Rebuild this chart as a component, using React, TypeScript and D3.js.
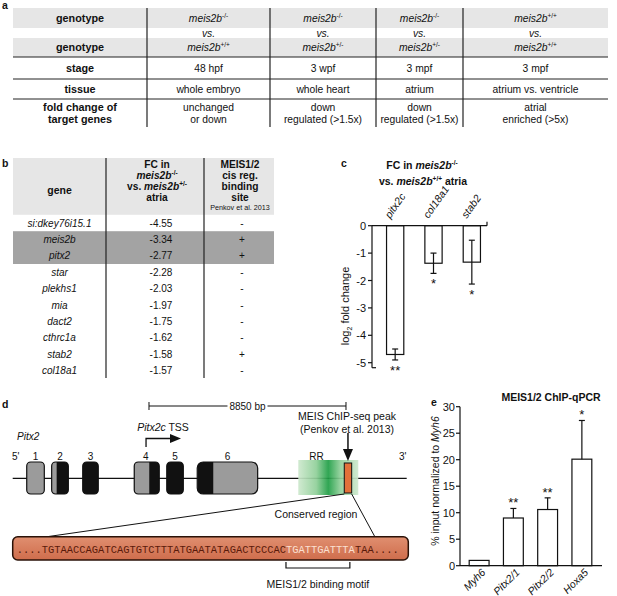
import React from "react";
import * as d3 from "d3";

const FONT = "'Liberation Sans', Arial, Helvetica, sans-serif";
const MONO = "'Liberation Mono', 'DejaVu Sans Mono', monospace";

// ---------- Panel a ----------
const aRowLabels = ["genotype", "genotype", "stage", "tissue"];
const aGenotypeLeft = ["-/-", "-/-", "-/-", "+/+"];
const aGenotypeRight = ["+/+", "+/-", "+/-", "+/+"];
const aStages = ["48 hpf", "3 wpf", "3 mpf", "3 mpf"];
const aTissues = ["whole embryo", "whole heart", "atrium", "atrium vs. ventricle"];
const aFoldChanges = [
  ["unchanged", "or down"],
  ["down", "regulated (>1.5x)"],
  ["down", "regulated (>1.5x)"],
  ["atrial", "enriched (>5x)"],
];

// ---------- Panel b ----------
const bGenes = ["si:dkey76i15.1", "meis2b", "pitx2", "star", "plekhs1", "mia", "dact2", "cthrc1a", "stab2", "col18a1"];
const bFC = ["-4.55", "-3.34", "-2.77", "-2.28", "-2.03", "-1.97", "-1.75", "-1.62", "-1.58", "-1.57"];
const bBinding = ["-", "+", "+", "-", "-", "-", "-", "-", "+", "-"];
const bHighlighted = ["meis2b", "pitx2"];

// ---------- Panel c ----------
const cGenes = ["pitx2c", "col18a1", "stab2"];
const cLog2FC = [-4.7, -1.37, -1.33];
const cError = [0.2, 0.37, 0.8];
const cSignif = ["**", "*", "*"];
const cTicks = [0, -1, -2, -3, -4, -5];

// ---------- Panel d ----------
const dLocusLength = 17700;
const dExonNames = ["1", "2", "3", "4", "5", "6"];
const dExonStart = [630, 1750, 3145, 5460, 6920, 8290];
const dExonEnd = [1420, 2500, 3845, 6585, 7665, 11005];
const dUtrStart = [630, 1750, null, 5460, null, 9010];
const dUtrEnd = [1420, 1975, null, 6135, null, 11005];
const dTSS = 5990;
const dRR = [12830, 15525];
const dPeak = [14895, 15228];
const dScaleBar = [6123, 14973]; // 8850 bp
const dSeqLeft = "....TGTAACCAGATCAGTGTCTTTATGAATATAGACTCCCAC";
const dSeqMotif = "TGATTGATTTA";
const dSeqRight = "TAA....";

// ---------- Panel e ----------
const eTargets = ["Myh6", "Pitx2/1", "Pitx2/2", "Hoxa5"];
const eValues = [1, 9, 10.6, 20.1];
const eErrors = [0, 1.8, 2.2, 7.3];
const eSignif = ["", "**", "**", "*"];
const eTicks = [0, 5, 10, 15, 20, 25, 30];

const Sup = ({ s }: { s: string }) => (
  <tspan fontSize={6.5} dy={-4}>{s}</tspan>
);

function PanelA() {
  const edges = [13, 147, 270, 376, 463, 608];
  const centers = edges.slice(0, 5).map((e, i) => (e + edges[i + 1]) / 2);
  const fs = 10.3;
  const W = edges[5] - edges[0];
  return (
    <g fontFamily={FONT} fontSize={fs} fill="#111">
      <text x={2} y={9} fontWeight="bold" fontSize={10.5}>a</text>
      <rect x={edges[0]} y={8} width={W} height={20} fill="#e6e6e6" />
      <rect x={edges[0]} y={38} width={W} height={19} fill="#e6e6e6" />
      {[57, 79, 99].map((y) => (
        <line key={y} x1={edges[0]} x2={edges[5]} y1={y} y2={y} stroke="#222" strokeWidth={1} />
      ))}
      {edges.slice(1, 5).map((x) => (
        <line key={x} x1={x} x2={x} y1={8} y2={127} stroke="#222" strokeWidth={1.2} />
      ))}
      {aRowLabels.map((l, i) => (
        <text key={i} x={centers[0]} y={[21.5, 51, 72, 92.5][i]} textAnchor="middle" fontWeight="bold" fontSize={10.8}>{l}</text>
      ))}
      <text x={centers[0]} y={110.5} textAnchor="middle" fontWeight="bold" fontSize={10.8}>fold change of</text>
      <text x={centers[0]} y={122.5} textAnchor="middle" fontWeight="bold" fontSize={10.8}>target genes</text>
      {centers.slice(1).map((cx, i) => (
        <g key={i}>
          <text x={cx} y={21.5} textAnchor="middle"><tspan fontStyle="italic">meis2b</tspan><Sup s={aGenotypeLeft[i]} /></text>
          <text x={cx} y={36.5} textAnchor="middle" fontStyle="italic">vs.</text>
          <text x={cx} y={51} textAnchor="middle"><tspan fontStyle="italic">meis2b</tspan><Sup s={aGenotypeRight[i]} /></text>
          <text x={cx} y={72} textAnchor="middle">{aStages[i]}</text>
          <text x={cx} y={92.5} textAnchor="middle">{aTissues[i]}</text>
          <text x={cx} y={110.5} textAnchor="middle">{aFoldChanges[i][0]}</text>
          <text x={cx} y={122.5} textAnchor="middle">{aFoldChanges[i][1]}</text>
        </g>
      ))}
    </g>
  );
}

function PanelB() {
  const edges = [13, 106, 204, 274];
  const rows = d3.scaleBand<string>().domain(bGenes).range([214.8, 378.8]);
  const hl = bHighlighted.map((g) => rows(g) as number);
  const hlTop = Math.min(...hl);
  const hlBot = Math.max(...hl) + rows.bandwidth();
  const c1 = (edges[0] + edges[1]) / 2;
  const c2 = 157;
  const c3 = 240;
  return (
    <g fontFamily={FONT} fontSize={10} fill="#111">
      <text x={2} y={167} fontWeight="bold" fontSize={10.5}>b</text>
      <rect x={edges[0]} y={158} width={edges[3] - edges[0]} height={56.8} fill="#e6e6e6" />
      <rect x={edges[0]} y={hlTop} width={edges[3] - edges[0]} height={hlBot - hlTop} fill="#a3a3a3" />
      {edges.slice(1, 3).map((x) => (
        <line key={x} x1={x} x2={x} y1={158} y2={378} stroke="#222" strokeWidth={1.2} />
      ))}
      <text x={c1} y={193.5} textAnchor="middle" fontWeight="bold" fontSize={10.5}>gene</text>
      <g fontWeight="bold" fontSize={10.2} textAnchor="middle">
        <text x={c2} y={168}>FC in</text>
        <text x={c2} y={179}><tspan fontStyle="italic">meis2b</tspan><Sup s="-/-" /></text>
        <text x={c2} y={190}>vs. <tspan fontStyle="italic">meis2b</tspan><Sup s="+/-" /></text>
        <text x={c2} y={201}>atria</text>
        <text x={c3} y={168}>MEIS1/2</text>
        <text x={c3} y={179}>cis reg.</text>
        <text x={c3} y={190}>binding</text>
        <text x={c3} y={201}>site</text>
      </g>
      <text x={c3} y={209.5} textAnchor="middle" fontSize={7.2}>Penkov et al. 2013</text>
      {bGenes.map((g, i) => {
        const y = (rows(g) as number) + rows.bandwidth() / 2 + 3.5;
        return (
          <g key={g}>
            <text x={c1} y={y} textAnchor="middle" fontStyle="italic">{g}</text>
            <text x={161} y={y} textAnchor="middle">{bFC[i]}</text>
            <text x={242} y={y} textAnchor="middle">{bBinding[i]}</text>
          </g>
        );
      })}
    </g>
  );
}

function PanelC() {
  const y = d3.scaleLinear().domain([0, -5]).range([225.7, 362.7]);
  const x = d3.scaleBand<string>().domain(cGenes).range([376, 491]).paddingInner(0.55).paddingOuter(0.275);
  const axisX = 372;
  return (
    <g fontFamily={FONT} fill="#111">
      <text x={341} y={167} fontWeight="bold" fontSize={10.5}>c</text>
      <g fontWeight="bold" fontSize={10.5} textAnchor="middle">
        <text x={422} y={168.5}>FC in <tspan fontStyle="italic">meis2b</tspan><Sup s="-/-" /></text>
        <text x={423} y={185}>vs. <tspan fontStyle="italic">meis2b</tspan><Sup s="+/+" /><tspan dy={4}> atria</tspan></text>
      </g>
      {cGenes.map((g) => {
        const cx = (x(g) as number) + x.bandwidth() / 2;
        return (
          <text key={g} transform={`translate(${cx - 5},${219}) rotate(-55)`} fontSize={10.5} fontStyle="italic">{g}</text>
        );
      })}
      {cGenes.map((g, i) => {
        const x0 = x(g) as number;
        const cx = x0 + x.bandwidth() / 2;
        const v = cLog2FC[i];
        const e = cError[i];
        return (
          <g key={g}>
            <rect x={x0} y={y(0)} width={x.bandwidth()} height={y(v) - y(0)} fill="#fff" stroke="#111" strokeWidth={1.2} />
            <line x1={cx} x2={cx} y1={y(v + e)} y2={y(v - e)} stroke="#111" strokeWidth={1.2} />
            <line x1={cx - 3} x2={cx + 3} y1={y(v + e)} y2={y(v + e)} stroke="#111" strokeWidth={1.2} />
            <line x1={cx - 3} x2={cx + 3} y1={y(v - e)} y2={y(v - e)} stroke="#111" strokeWidth={1.2} />
            <text x={cx} y={y(v - e) + 15} textAnchor="middle" fontSize={13}>{cSignif[i]}</text>
          </g>
        );
      })}
      <line x1={axisX} x2={487} y1={y(0)} y2={y(0)} stroke="#111" strokeWidth={1.2} />
      <line x1={487} x2={487} y1={y(0) - 4} y2={y(0)} stroke="#111" strokeWidth={1.2} />
      <line x1={axisX} x2={axisX} y1={y(0)} y2={y(-5) + 5} stroke="#111" strokeWidth={1.2} />
      <line x1={axisX} x2={axisX + 4} y1={y(-5) + 5} y2={y(-5) + 5} stroke="#111" strokeWidth={1.2} />
      {cTicks.map((t) => (
        <g key={t}>
          <line x1={axisX - 4} x2={axisX} y1={y(t)} y2={y(t)} stroke="#111" strokeWidth={1.2} />
          <text x={axisX - 6} y={y(t) + 4} textAnchor="end" fontSize={11}>{t}</text>
        </g>
      ))}
      <text transform={`translate(349,306) rotate(-90)`} textAnchor="middle" fontSize={11}>
        log<tspan fontSize={7} dy={3}>2</tspan><tspan dy={-3}> fold change</tspan>
      </text>
    </g>
  );
}

function PanelD() {
  const xg = d3.scaleLinear().domain([0, dLocusLength]).range([12.7, 406.7]);
  const lineY = 478.3;
  const exTop = 462;
  const exBot = 494;
  const peakMid = xg((dPeak[0] + dPeak[1]) / 2);
  const sbL = xg(dScaleBar[0]);
  const sbR = xg(dScaleBar[1]);
  const sbMid = (sbL + sbR) / 2;
  const fullSeqLen = dSeqLeft.length + dSeqMotif.length + dSeqRight.length;
  const seqX0 = 16.7;
  const seqW = 382;
  const charW = seqW / fullSeqLen;
  const motifX0 = seqX0 + dSeqLeft.length * charW;
  const motifX1 = motifX0 + dSeqMotif.length * charW;
  return (
    <g fontFamily={FONT} fill="#111">
      <defs>
        <linearGradient id="rrGrad" x1="0" x2="1" y1="0" y2="0">
          <stop offset="0%" stopColor="#cde8cd" />
          <stop offset="30%" stopColor="#8fcf98" />
          <stop offset="50%" stopColor="#1f9e45" />
          <stop offset="70%" stopColor="#8fcf98" />
          <stop offset="100%" stopColor="#cde8cd" />
        </linearGradient>
        <linearGradient id="seqGrad" x1="0" x2="0" y1="0" y2="1">
          <stop offset="0%" stopColor="#e08f70" />
          <stop offset="100%" stopColor="#cf6d4c" />
        </linearGradient>
        {dExonStart.map((s, i) => (
          <clipPath key={i} id={`exclip${i}`}>
            <rect x={xg(s)} y={exTop} width={xg(dExonEnd[i]) - xg(s)} height={exBot - exTop} rx={i === 5 ? 6 : 4} />
          </clipPath>
        ))}
      </defs>
      <text x={2} y={408} fontWeight="bold" fontSize={10.5}>d</text>
      <line x1={sbL} x2={sbMid - 20} y1={406} y2={406} stroke="#111" strokeWidth={1} />
      <line x1={sbMid + 20} x2={sbR} y1={406} y2={406} stroke="#111" strokeWidth={1} />
      <line x1={sbL} x2={sbL} y1={402} y2={410} stroke="#111" strokeWidth={1} />
      <line x1={sbR} x2={sbR} y1={402} y2={410} stroke="#111" strokeWidth={1} />
      <text x={sbMid} y={409.5} textAnchor="middle" fontSize={10}>8850 bp</text>

      <text x={17} y={440} fontStyle="italic" fontSize={10}>Pitx2</text>
      <text x={12} y={460} fontSize={10}>5'</text>
      <text x={399} y={460} fontSize={10}>3'</text>

      <line x1={xg(0)} x2={xg(dLocusLength)} y1={lineY} y2={lineY} stroke="#111" strokeWidth={1.3} />

      <rect x={xg(dRR[0])} y={460} width={xg(dRR[1]) - xg(dRR[0])} height={35} fill="url(#rrGrad)" opacity={0.92} />
      <text x={xg(13650)} y={460} textAnchor="middle" fontSize={10}>RR</text>

      {dExonStart.map((s, i) => {
        const x0 = xg(s);
        const w = xg(dExonEnd[i]) - x0;
        const us = dUtrStart[i];
        const ue = dUtrEnd[i];
        return (
          <g key={i}>
            <g clipPath={`url(#exclip${i})`}>
              <rect x={x0} y={exTop} width={w} height={exBot - exTop} fill="#111" />
              {us !== null && ue !== null && (
                <rect x={xg(us)} y={exTop} width={xg(ue) - xg(us)} height={exBot - exTop} fill="#9b9b9b" />
              )}
            </g>
            <rect x={x0} y={exTop} width={w} height={exBot - exTop} rx={i === 5 ? 6 : 4} fill="none" stroke="#111" strokeWidth={1.2} />
            <text x={x0 + w / 2 + (i === 3 ? -1 : 0)} y={460} textAnchor="middle" fontSize={10}>{dExonNames[i]}</text>
          </g>
        );
      })}

      <path d={`M${xg(dTSS)},447 V438.5 H172`} fill="none" stroke="#111" strokeWidth={1.3} />
      <polygon points={`181,438.5 170,434 170,443`} fill="#111" />
      <text x={163} y={431} textAnchor="middle" fontSize={10.5}>
        <tspan fontStyle="italic">Pitx2c</tspan> TSS
      </text>

      <rect x={xg(dPeak[0])} y={463} width={xg(dPeak[1]) - xg(dPeak[0])} height={30} fill="#e2703a" stroke="#111" strokeWidth={1} />
      <line x1={peakMid} x2={peakMid} y1={433} y2={450} stroke="#111" strokeWidth={1.5} />
      <polygon points={`${peakMid},461 ${peakMid - 5},449 ${peakMid + 5},449`} fill="#111" />
      <text x={347} y={420} textAnchor="middle" fontSize={10.5}>MEIS ChIP-seq peak</text>
      <text x={347} y={433} textAnchor="middle" fontSize={10.5}>(Penkov et al. 2013)</text>

      <line x1={xg(dPeak[0])} y1={494} x2={45} y2={537} stroke="#111" strokeWidth={1} />
      <line x1={xg(dPeak[1])} y1={494} x2={375} y2={537} stroke="#111" strokeWidth={1} />
      <text x={316} y={518} textAnchor="middle" fontSize={10.5}>Conserved region</text>

      <rect x={12.7} y={536.7} width={395.6} height={23.3} rx={5} fill="url(#seqGrad)" stroke="#2a1208" strokeWidth={1.5} />
      <text x={seqX0} y={552.5} fontFamily={MONO} fontSize={10.4} textLength={seqW} lengthAdjust="spacing" fill="#5a1a0a">
        {dSeqLeft}<tspan fill="#fbe0d2">{dSeqMotif}</tspan>{dSeqRight}
      </text>
      <path d={`M${motifX0},562 V568 H${motifX1 - 5} V562`} fill="none" stroke="#111" strokeWidth={1.2} />
      <text x={(motifX0 + motifX1 - 5) / 2} y={588} textAnchor="middle" fontSize={10.5}>MEIS1/2 binding motif</text>
    </g>
  );
}

function PanelE() {
  const y = d3.scaleLinear().domain([0, 30]).range([565.7, 406.7]);
  const x = d3.scaleBand<string>().domain(eTargets).range([462, 599]).paddingInner(0.42).paddingOuter(0.21);
  const axisX = 460;
  return (
    <g fontFamily={FONT} fill="#111">
      <text x={431} y={406} fontWeight="bold" fontSize={10.5}>e</text>
      <text x={551} y={401} textAnchor="middle" fontWeight="bold" fontSize={10.5}>MEIS1/2 ChIP-qPCR</text>
      {eTargets.map((g, i) => {
        const x0 = x(g) as number;
        const cx = x0 + x.bandwidth() / 2;
        const v = eValues[i];
        const e = eErrors[i];
        return (
          <g key={g}>
            <rect x={x0} y={y(v)} width={x.bandwidth()} height={y(0) - y(v)} fill="#fff" stroke="#111" strokeWidth={1.2} />
            {e > 0 && (
              <>
                <line x1={cx} x2={cx} y1={y(v)} y2={y(v + e)} stroke="#111" strokeWidth={1.2} />
                <line x1={cx - 3} x2={cx + 3} y1={y(v + e)} y2={y(v + e)} stroke="#111" strokeWidth={1.2} />
              </>
            )}
            {eSignif[i] && (
              <text x={cx} y={y(v + e) - 1} textAnchor="middle" fontSize={13}>{eSignif[i]}</text>
            )}
            <text transform={`translate(${cx + 7},${573}) rotate(-45)`} textAnchor="end" fontSize={10.5} fontStyle="italic">{g}</text>
          </g>
        );
      })}
      <line x1={axisX} x2={602} y1={y(0)} y2={y(0)} stroke="#111" strokeWidth={1.2} />
      <line x1={axisX} x2={axisX} y1={y(0)} y2={y(30)} stroke="#111" strokeWidth={1.2} />
      {eTicks.map((t) => (
        <g key={t}>
          <line x1={axisX - 4} x2={axisX} y1={y(t)} y2={y(t)} stroke="#111" strokeWidth={1.2} />
          <text x={axisX - 5} y={y(t) + 4} textAnchor="end" fontSize={11}>{t}</text>
        </g>
      ))}
      <text transform={`translate(439,481) rotate(-90)`} textAnchor="middle" fontSize={10.5}>
        % input normalized to <tspan fontStyle="italic">Myh6</tspan>
      </text>
    </g>
  );
}

export default function App() {
  return (
    <svg
      width={617}
      height={596}
      viewBox="0 0 617 596"
      style={{ position: "absolute", left: 0, top: 0, background: "#fff" }}
    >
      <rect x={0} y={0} width={617} height={596} fill="#fff" />
      <PanelA />
      <PanelB />
      <PanelC />
      <PanelD />
      <PanelE />
    </svg>
  );
}
